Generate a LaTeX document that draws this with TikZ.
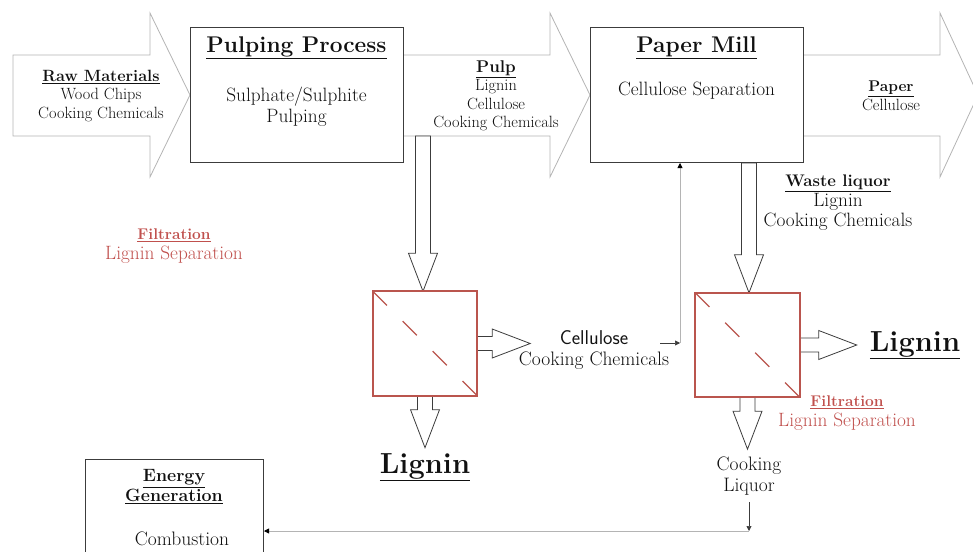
\documentclass[tikz,border=0pt]{standalone}
\usetikzlibrary{arrows.meta,calc}
\definecolor{redc}{HTML}{C0504D}
\definecolor{filt}{HTML}{BA554E}
\definecolor{arrg}{HTML}{B4B4B4}
\definecolor{boxg}{HTML}{3C3C3C}
\definecolor{txt}{HTML}{111111}
\newcommand\fsz[2]{\fontsize{#1}{#2}\selectfont}
\newcommand\hd[1]{\underline{\textbf{#1}}}
\begin{document}
\begin{tikzpicture}[x=1pt,y=-1pt,
  bigarrow/.style={draw=arrg, line width=0.8pt, fill=white},
  procbox/.style={draw=boxg, line width=1pt, fill=white, inner sep=0pt},
  filterbox/.style={inner sep=0pt, minimum width=104, minimum height=104},
  filterline/.style={draw=filt, line width=1.8pt, fill=white},
  hollow/.style={draw=boxg, line width=0.8pt, fill=white},
  blockdown/.style={to path={let \p1=(\tikztostart), \p2=(\tikztotarget) in
     (\x1-7.5pt,\y1) -- (\x1-7.5pt,\y2+38pt) -- (\x1-14.5pt,\y2+38pt) -- (\x1,\y2)
     -- (\x1+14.5pt,\y2+38pt) -- (\x1+7.5pt,\y2+38pt) -- (\x1+7.5pt,\y1) -- cycle}},
  blockright/.style={to path={let \p1=(\tikztostart), \p2=(\tikztotarget) in
     (\x1,\y1+7pt) -- (\x2-38pt,\y1+7pt) -- (\x2-38pt,\y1+14.5pt) -- (\x2,\y1)
     -- (\x2-38pt,\y1-14.5pt) -- (\x2-38pt,\y1-7pt) -- (\x1,\y1-7pt) -- cycle}},
  lbl/.style={align=center, text=txt, inner sep=0pt},
  redlbl/.style={align=center, text=redc, inner sep=0pt},
  thinarr/.style={draw=boxg, line width=0.6pt, -{Triangle[length=5pt,width=5pt]}},
  grayarr/.style={draw=arrg, line width=0.8pt, -{Triangle[length=5pt,width=5pt,color=black]}},
  diag/.style={draw=filt, line width=1.4pt, dash pattern=on 20pt off 22.3pt}
]
\useasboundingbox (0,0) rectangle (973,551);

% big flow arrows
\draw[bigarrow] (13,55) -- (150,55) -- (150,13) -- (190,95) -- (150,177) -- (150,136) -- (13,136) -- cycle;
\draw[bigarrow] (400,55) -- (550,55) -- (550,13) -- (590,95) -- (550,177) -- (550,136) -- (400,136) -- cycle;
\draw[bigarrow] (800,55) -- (940,55) -- (940,13) -- (978,95) -- (940,177) -- (940,136) -- (800,136) -- cycle;

% process boxes
\node[procbox, minimum width=213, minimum height=135] (pp) at (296.5,95) {};
\node[procbox, minimum width=213, minimum height=135] (pm) at (696.5,95) {};
\node[procbox, minimum width=178, minimum height=130, anchor=north west] (eg) at (85,459) {};

% filters (placed, drawn after the block arrows)
\node[filterbox] (f1) at (425,343.5) {};
\node[filterbox] (f2) at (747.5,345) {};

% hollow block arrows
\coordinate (pulpout) at (423,136);
\draw[hollow] (pulpout) to[blockdown] (f1.north);
\draw[hollow] (pm.south -| 749,0) to[blockdown] (f2.north);
\draw[hollow] (f1.south) to[blockdown] ($(f1.south)+(0,52)$);
\draw[hollow] (f2.south) to[blockdown] ($(f2.south)+(0,52)$);
\draw[hollow] (f1.east) to[blockright] ($(f1.east)+(53,0)$);
\draw[hollow] (f2.east) to[blockright] ($(f2.east)+(57,0)$);

\draw[filterline] (f1.north west) rectangle (f1.south east);
\draw[filterline] (f2.north west) rectangle (f2.south east);
\draw[diag] (f1.north west) -- (f1.south east);
\draw[diag] (f2.north west) -- (f2.south east);

% texts
\node[lbl, font=\fsz{16.3}{18.5}] (rmt) at (101,96) {\hd{Raw Materials}\\Wood Chips\\Cooking Chemicals};
\node[lbl, font=\fsz{22.7}{26}] (ppt) at (296.5,48) {\hd{Pulping Process}};
\node[lbl, font=\fsz{19.3}{21}] (pps) at (296.5,107) {Sulphate/Sulphite\\Pulping};
\node[lbl, font=\fsz{16.3}{18.5}] (pulp) at (496,96) {{\fsz{17}{18.5}\hd{Pulp}}\\Lignin\\Cellulose\\Cooking Chemicals};
\node[lbl, font=\fsz{22.7}{26}] (pmt) at (696.5,48) {\hd{Paper Mill}};
\node[lbl, font=\fsz{19.3}{21}] (pms) at (696.5,91) {Cellulose Separation};
\node[lbl, font=\fsz{16.3}{18.5}] (paper) at (891,96) {{\fsz{15.5}{18.5}\hd{Paper}}\\Cellulose};
\node[lbl, font=\fsz{19.3}{20}] (wl) at (838,203) {{\fsz{16.8}{20}\hd{Waste liquor}}\\Lignin\\Cooking Chemicals};
\node[redlbl, font=\fsz{19.3}{20}] (filtL) at (174,246) {{\fsz{15.5}{20}\hd{Filtration}}\\Lignin Separation};
\node[redlbl, font=\fsz{19.3}{20}] (filtR) at (847,413) {{\fsz{15.5}{20}\hd{Filtration}}\\Lignin Separation};
\node[lbl, font=\fsz{19.5}{20.5}] (cc) at (594,350) {{\sffamily\fsz{20}{20.5}Cellulose}\\Cooking Chemicals};
\node[lbl, font=\fsz{29}{32}] (lig1) at (425,467) {\hd{Lignin}};
\node[lbl, font=\fsz{29}{32}] (lig2) at (915,345) {\hd{Lignin}};
\node[lbl, font=\fsz{19.5}{21}] (cl) at (749,476) {Cooking\\Liquor};
\node[lbl, font=\fsz{17.8}{20}] (egt) at (174,487) {\hd{Energy}\\\hd{Generation}};
\node[lbl, font=\fsz{19.5}{20}] (comb) at (182,539) {Combustion};

% thin connectors
\coordinate (s1) at (660,343);
\coordinate (c1) at (680,343);
\draw[thinarr] (s1) -- (c1);
\draw[grayarr] (c1) -- (c1 |- pm.south);
\coordinate (s2) at (749,502);
\coordinate (c2) at (749,531);
\draw[thinarr] (s2) -- (c2);
\draw[grayarr] (c2) -- (c2 -| eg.east);
\end{tikzpicture}
\end{document}
